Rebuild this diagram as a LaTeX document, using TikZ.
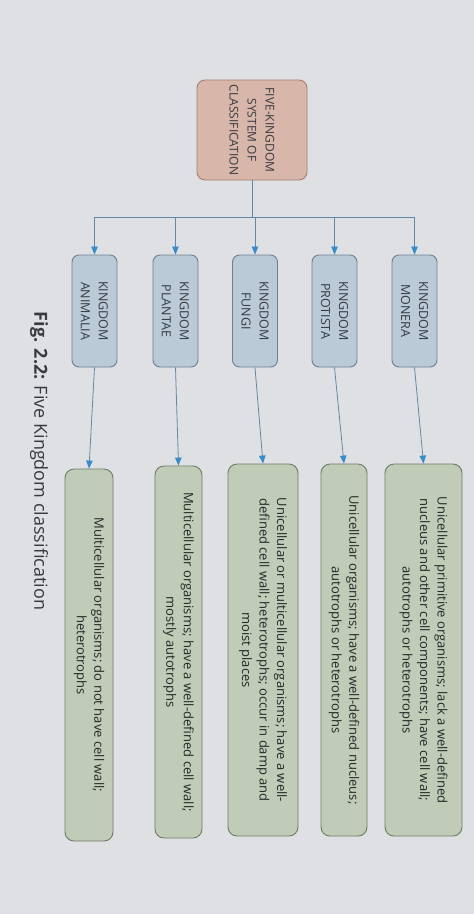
\documentclass[tikz,border=0pt]{standalone}
\usepackage{fontspec}
\setmainfont{Open Sans}
\usepackage{xcolor}
\usetikzlibrary{arrows.meta}

\definecolor{paper}{HTML}{DFE0E3}
\definecolor{rootfill}{HTML}{D8B6A9}
\definecolor{rootline}{HTML}{A27E72}
\definecolor{kingfill}{HTML}{BACAD7}
\definecolor{kingline}{HTML}{6E808E}
\definecolor{descfill}{HTML}{C0CCB7}
\definecolor{descline}{HTML}{6D7C63}
\definecolor{linkblue}{HTML}{6189A6}
\definecolor{tipblue}{HTML}{3A8CC8}
\definecolor{inkgrey}{HTML}{363B40}

\begin{document}
\begin{tikzpicture}[x=1pt, y=1pt, rotate=-90, transform shape,
        rootbox/.style={rectangle, rounded corners=8pt, draw=rootline, fill=rootfill, line width=0.9pt, minimum width=100pt, minimum height=110pt, align=center, text=inkgrey, font=\fontsize{12}{18}\selectfont},
        kingbox/.style={rectangle, rounded corners=7pt, draw=kingline, fill=kingfill, line width=0.9pt, minimum width=112pt, minimum height=45pt, inner sep=2pt, align=center, text=inkgrey, font=\fontsize{12.5}{18}\selectfont},
        descbox/.style={rectangle, rounded corners=9pt, draw=descline, fill=descfill, line width=0.9pt, minimum width=372pt, minimum height=47pt, inner sep=4pt, align=center, text=black!85, font=\fontsize{13}{17.5}\selectfont},
        link/.style={draw=linkblue, line width=0.8pt},
        arrow/.style={link, -{Triangle[length=8pt, width=6.5pt, color=tipblue]}}]

        % page, and the size of the picture
        \fill[paper] (0,0) rectangle (914,474);

        \node[rootbox] (root) at (130,252) {FIVE-KINGDOM\\SYSTEM OF\\CLASSIFICATION};

        \coordinate (bus) at (217,252);

        \node[kingbox] (monera) at (311,414.5) {KINGDOM\\MONERA};
        \node[kingbox] (protista) at (311,334.5) {KINGDOM\\PROTISTA};
        \node[kingbox] (fungi) at (311,255) {KINGDOM\\FUNGI};
        \node[kingbox] (plantae) at (311,175.5) {KINGDOM\\PLANTAE};
        \node[kingbox] (animalia) at (311,94.5) {KINGDOM\\ANIMALIA};

        \node[descbox, minimum height=77pt] (monera-d) at (650,423.5) {Unicellular primitive organisms; lack a well-defined\\nucleus and other cell components; have cell wall;\\autotrophs or heterotrophs};
        \node[descbox, minimum height=46pt] (protista-d) at (650,344) {Unicellular organisms; have a well-defined nucleus;\\autotrophs or heterotrophs};
        \node[descbox, minimum height=70pt] (fungi-d) at (650,263) {Unicellular or multicellular organisms; have a well-\\defined cell wall; heterotrophs; occur in damp and\\moist places};
        \node[descbox] (plantae-d) at (652,178.5) {Multicellular organisms; have a well-defined cell wall;\\mostly autotrophs};
        \node[descbox, minimum height=48pt] (animalia-d) at (655,89) {Multicellular organisms; do not have cell wall;\\heterotrophs};

        \node[text=inkgrey, font=\fontsize{18}{20}\selectfont] (caption) at (461,39) {\textbf{Fig. 2.2:} Five Kingdom classification};

        \path[link] (root) -- (bus);
        \path[link] (bus |- animalia) -- (bus |- monera);

        \path
        (bus |- monera) edge[arrow] (monera.west)
        (bus |- protista) edge[arrow] (protista.west)
        (bus |- fungi) edge[arrow] (fungi.west)
        (bus |- plantae) edge[arrow] (plantae.west)
        (bus |- animalia) edge[arrow] (animalia.west);

        \path
        (monera.east) edge[arrow] (monera-d.west)
        (protista.east) edge[arrow] (protista-d.west)
        (fungi.east) edge[arrow] (fungi-d.west)
        (plantae.east) edge[arrow] (plantae-d.west)
        (animalia.east) edge[arrow] (animalia-d.west);

\end{tikzpicture}
\end{document}
